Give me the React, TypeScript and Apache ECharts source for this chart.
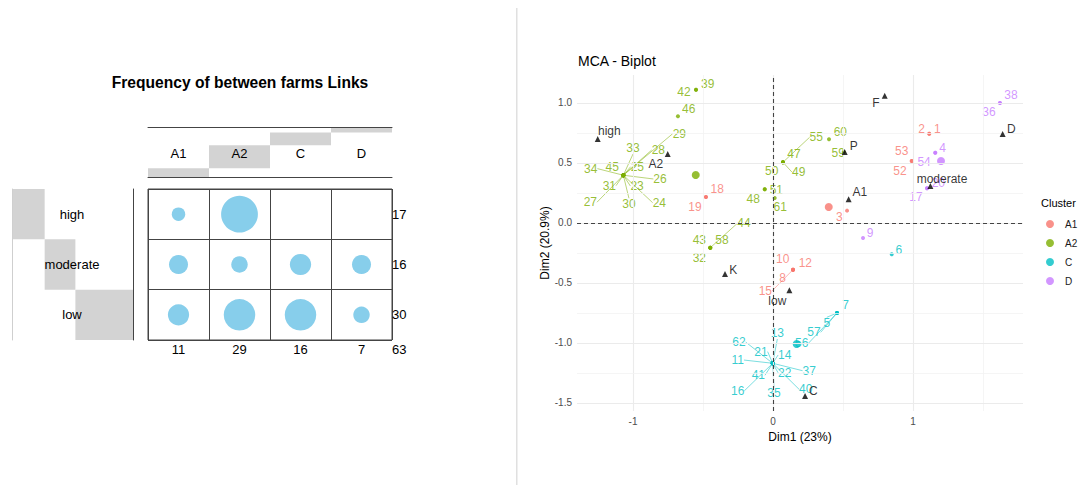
import React, { useEffect, useRef } from "react";
import * as echarts from "echarts";

// ---------------- Balloon plot data ----------------
const balloonRows = ["high", "moderate", "low"];
const balloonCols = ["A1", "A2", "C", "D"];
const countsHigh = [2, 15, 0, 0];
const countsModerate = [4, 3, 5, 4];
const countsLow = [5, 11, 11, 3];
const balloonCounts = [countsHigh, countsModerate, countsLow];

// ---------------- MCA biplot data ----------------
const clusterNames = ["A1", "A2", "C", "D"];
const clusterColors = ["#F8766D", "#7CAE00", "#00BFC4", "#C77CFF"];

const a1Ids = ["1", "2", "3", "8", "10", "12", "15", "18", "19", "52", "53"];
const a1Dim1 = [1.116, 1.116, 0.529, 0.143, 0.143, 0.143, 0.143, -0.479, -0.479, 0.991, 0.991];
const a1Dim2 = [0.744, 0.744, 0.103, -0.389, -0.389, -0.389, -0.389, 0.217, 0.217, 0.517, 0.517];
const a1LabelDim1 = [1.174, 1.062, 0.474, 0.069, 0.069, 0.231, -0.055, -0.398, -0.557, 0.907, 0.919];
const a1LabelDim2 = [0.781, 0.781, 0.048, -0.456, -0.303, -0.331, -0.567, 0.283, 0.136, 0.433, 0.6];

const a2Ids = ["23", "24", "25", "26", "27", "28", "29", "30", "31", "33", "34", "45", "39", "42", "46", "47", "49", "50", "55", "60", "59", "48", "51", "61", "32", "43", "44", "58"];
const a2Dim1 = [-1.069, -1.069, -1.069, -1.069, -1.069, -1.069, -1.069, -1.069, -1.069, -1.069, -1.069, -1.069, -0.55, -0.55, -0.679, 0.071, 0.071, 0.071, 0.071, 0.4, 0.505, -0.059, -0.059, 0.012, -0.448, -0.448, -0.448, -0.448];
const a2Dim2 = [0.398, 0.398, 0.398, 0.398, 0.398, 0.398, 0.398, 0.398, 0.398, 0.398, 0.398, 0.398, 1.111, 1.111, 0.889, 0.506, 0.506, 0.506, 0.506, 0.698, 0.592, 0.281, 0.281, 0.208, -0.206, -0.206, -0.206, -0.206];
const a2LabelDim1 = [-0.971, -0.812, -0.969, -0.807, -1.305, -0.819, -0.669, -1.029, -1.169, -1.0, -1.302, -1.148, -0.466, -0.636, -0.602, 0.15, 0.184, -0.009, 0.309, 0.481, 0.466, -0.141, 0.024, 0.052, -0.526, -0.526, -0.207, -0.364];
const a2LabelDim2 = [0.308, 0.169, 0.469, 0.367, 0.173, 0.608, 0.744, 0.156, 0.311, 0.625, 0.453, 0.469, 1.156, 1.094, 0.948, 0.578, 0.423, 0.436, 0.714, 0.758, 0.586, 0.203, 0.275, 0.131, -0.294, -0.142, -0.003, -0.142];

const cIds = ["5", "7", "56", "57", "6", "11", "13", "14", "16", "21", "22", "35", "37", "40", "41", "62"];
const cDim1 = [0.457, 0.457, 0.457, 0.457, 0.848, -0.002, -0.002, -0.002, -0.002, -0.002, -0.002, -0.002, -0.002, -0.002, -0.002, -0.002];
const cDim2 = [-0.75, -0.75, -0.75, -0.75, -0.261, -1.169, -1.169, -1.169, -1.169, -1.169, -1.169, -1.169, -1.169, -1.169, -1.169, -1.169];
const cLabelDim1 = [0.384, 0.519, 0.205, 0.293, 0.898, -0.252, 0.031, 0.084, -0.252, -0.086, 0.084, 0.007, 0.259, 0.234, -0.105, -0.243];
const cLabelDim2 = [-0.836, -0.686, -1.003, -0.911, -0.222, -1.142, -0.917, -1.1, -1.398, -1.072, -1.248, -1.419, -1.231, -1.386, -1.269, -0.992];

const dIds = ["36", "38", "4", "54", "17", "20", "9"];
const dDim1 = [1.621, 1.621, 1.159, 1.159, 1.1, 1.1, 0.643];
const dDim2 = [1.0, 1.0, 0.586, 0.586, 0.289, 0.289, -0.125];
const dLabelDim1 = [1.543, 1.7, 1.212, 1.079, 1.021, 1.181, 0.693];
const dLabelDim2 = [0.923, 1.067, 0.625, 0.506, 0.214, 0.331, -0.086];

const centroidDim1 = [0.398, -0.552, 0.169, 1.2];
const centroidDim2 = [0.133, 0.4, -1.008, 0.517];

const varNames = ["high", "A2", "K", "P", "A1", "F", "D", "moderate", "low", "C"];
const varDim1 = [-1.252, -0.752, -0.343, 0.512, 0.54, 0.798, 1.64, 1.124, 0.117, 0.229];
const varDim2 = [0.7, 0.575, -0.425, 0.592, 0.197, 1.061, 0.742, 0.308, -0.561, -1.442];
const varLabelDim1 = [-1.169, -0.836, -0.284, 0.576, 0.621, 0.736, 1.702, 1.207, 0.031, 0.288];
const varLabelDim2 = [0.764, 0.492, -0.389, 0.644, 0.261, 1.0, 0.783, 0.369, -0.65, -1.398];

const segmentLabels = ["23", "24", "25", "26", "27", "28", "29", "30", "31", "33", "34", "44", "49", "55", "15", "5", "56", "57", "11", "13", "14", "16", "21", "22", "35", "37", "40", "41", "62"];

const xMajor = [-1, 0, 1];
const xMinor = [-0.5, 0.5, 1.5];
const yMajor = [-1.5, -1, -0.5, 0, 0.5, 1];
const yMinor = [-1.25, -0.75, -0.25, 0.25, 0.75];
const xRange = [-1.4, 1.7857];
const yRange = [-1.5667, 1.2333];

const FONT = "'Liberation Sans', Arial, Helvetica, sans-serif";

export default function App() {
  const ref = useRef<HTMLDivElement>(null);

  useEffect(() => {
    if (!ref.current) return;
    const chart = echarts.init(ref.current, null, { renderer: "svg" });

    const colTotals = balloonCols.map((_, j) => balloonCounts.reduce((s, r) => s + r[j], 0));
    const rowTotals = balloonCounts.map((r) => r.reduce((s, v) => s + v, 0));
    const grandTotal = rowTotals.reduce((s, v) => s + v, 0);
    const colBase = colTotals.map((_, j) => colTotals.slice(0, j).reduce((s, v) => s + v, 0));
    const rowBase = rowTotals.map((_, i) => rowTotals.slice(0, i).reduce((s, v) => s + v, 0));

    const balloonData: any[] = [];
    balloonRows.forEach((r, i) =>
      balloonCols.forEach((c, j) => balloonData.push([c, r, balloonCounts[i][j]]))
    );

    const makeLayout = (lx: number[], ly: number[]) => (params: any) => {
      const i = params.dataIndex;
      if (i >= lx.length) return {};
      const p = chart.convertToPixel({ seriesIndex: params.seriesIndex }, [lx[i], ly[i]]);
      if (!p) return {};
      return { x: p[0], y: p[1], align: "center", verticalAlign: "middle" };
    };

    const clusterDefs = [
      { ids: a1Ids, x: a1Dim1, y: a1Dim2, lx: a1LabelDim1, ly: a1LabelDim2 },
      { ids: a2Ids, x: a2Dim1, y: a2Dim2, lx: a2LabelDim1, ly: a2LabelDim2 },
      { ids: cIds, x: cDim1, y: cDim2, lx: cLabelDim1, ly: cLabelDim2 },
      { ids: dIds, x: dDim1, y: dDim2, lx: dLabelDim1, ly: dLabelDim2 },
    ];

    const clusterSeries = clusterDefs.map((d, k) => ({
      type: "scatter",
      name: clusterNames[k],
      xAxisIndex: 4,
      yAxisIndex: 4,
      z: 4,
      symbol: "circle",
      symbolSize: 4,
      itemStyle: { color: clusterColors[k] },
      label: {
        show: true,
        formatter: "{b}",
        position: "inside",
        color: clusterColors[k],
        fontSize: 12,
        fontFamily: FONT,
      },
      labelLine: { show: false, lineStyle: { width: 0.8, opacity: 0.65 } },
      labelLayout: makeLayout(d.lx, d.ly),
      data: d.ids
        .map((id, i) => ({
          name: id,
          value: [d.x[i], d.y[i]],
          labelLine: { show: segmentLabels.includes(id) },
        }))
        .concat([
          {
            name: "",
            value: [centroidDim1[k], centroidDim2[k]],
            symbolSize: 8,
            label: { show: false },
            labelLine: { show: false },
          } as any,
        ]),
    }));

    const option: any = {
      animation: false,
      textStyle: { fontFamily: FONT },
      title: [
        {
          text: "Frequency of between farms Links",
          left: 240,
          top: 74,
          textAlign: "center",
          padding: 0,
          textStyle: { fontSize: 15.6, fontWeight: "bold", color: "#000", fontFamily: FONT },
        },
        {
          text: "MCA - Biplot",
          left: 578,
          top: 54,
          padding: 0,
          textStyle: { fontSize: 14, fontWeight: "normal", color: "#000", fontFamily: FONT },
        },
        {
          text: "Cluster",
          left: 1041,
          top: 197,
          padding: 0,
          textStyle: { fontSize: 11, fontWeight: "normal", color: "#000", fontFamily: FONT },
        },
      ],
      legend: {
        data: clusterNames,
        orient: "vertical",
        left: 1046,
        top: 219,
        itemWidth: 8,
        itemHeight: 8,
        itemGap: 9,
        icon: "circle",
        selectedMode: false,
        padding: 0,
        textStyle: { fontSize: 10, color: "#1a1a1a", padding: [0, 0, 0, 6], fontFamily: FONT },
      },
      grid: [
        { left: 148, top: 189, width: 244, height: 151, show: true, borderColor: "#444", borderWidth: 1 },
        { left: 148, top: 127, width: 244, height: 50 },
        { left: 12, top: 189, width: 121, height: 151 },
        { left: 577, top: 75, width: 446, height: 336 },
      ],
      xAxis: [
        {
          type: "category",
          gridIndex: 0,
          data: balloonCols,
          position: "bottom",
          axisLine: { show: false },
          axisTick: { show: false },
          splitLine: { show: true, interval: 0, lineStyle: { color: "#444", width: 1 } },
          axisLabel: {
            interval: 0,
            margin: 3,
            fontSize: 13,
            color: "#000",
            formatter: (_v: string, i: number) => String(colTotals[i]),
          },
        },
        {
          type: "category",
          gridIndex: 1,
          data: balloonCols,
          position: "bottom",
          z: 6,
          axisLine: { show: true, lineStyle: { color: "#444", width: 1 } },
          axisTick: { show: false },
          axisLabel: { interval: 0, margin: -30, fontSize: 13, color: "#000" },
        },
        {
          type: "category",
          gridIndex: 1,
          data: balloonCols,
          position: "top",
          z: 6,
          axisLine: { show: true, lineStyle: { color: "#444", width: 1 } },
          axisTick: { show: false },
          axisLabel: { show: false },
        },
        { type: "value", gridIndex: 2, min: 0, max: grandTotal, show: false },
        {
          type: "value",
          gridIndex: 3,
          min: xRange[0],
          max: xRange[1],
          splitLine: { show: false },
          axisLine: { show: false },
          axisTick: { show: true, customValues: xMajor, length: 4, lineStyle: { color: "#333" } },
          axisLabel: {
            customValues: xMajor,
            formatter: (v: number) => String(v),
            color: "#4d4d4d",
            fontSize: 10,
            margin: 5,
          },
          name: "Dim1 (23%)",
          nameLocation: "middle",
          nameGap: 19,
          nameTextStyle: { fontSize: 12, color: "#000" },
        },
      ],
      yAxis: [
        {
          type: "category",
          gridIndex: 0,
          data: balloonRows,
          inverse: true,
          position: "right",
          axisLine: { show: false },
          axisTick: { show: false },
          splitLine: { show: true, interval: 0, lineStyle: { color: "#444", width: 1 } },
          axisLabel: {
            interval: 0,
            margin: 0,
            fontSize: 13,
            color: "#000",
            formatter: (_v: string, i: number) => String(rowTotals[i]),
          },
        },
        { type: "value", gridIndex: 1, min: 0, max: grandTotal, show: false },
        {
          type: "category",
          gridIndex: 2,
          data: balloonRows,
          inverse: true,
          position: "left",
          z: 6,
          axisLine: { show: true, lineStyle: { color: "#cfcfcf", width: 1 } },
          axisTick: { show: false },
          axisLabel: { interval: 0, align: "center", margin: -60, fontSize: 13, color: "#000" },
        },
        {
          type: "category",
          gridIndex: 2,
          data: balloonRows,
          inverse: true,
          position: "right",
          axisLine: { show: true, lineStyle: { color: "#444", width: 1 } },
          axisTick: { show: false },
          axisLabel: { show: false },
        },
        {
          type: "value",
          gridIndex: 3,
          min: yRange[0],
          max: yRange[1],
          splitLine: { show: false },
          axisLine: { show: false },
          axisTick: { show: true, customValues: yMajor, length: 4, lineStyle: { color: "#333" } },
          axisLabel: {
            customValues: yMajor,
            formatter: (v: number) => v.toFixed(1),
            color: "#4d4d4d",
            fontSize: 10,
            margin: 5,
          },
          name: "Dim2 (20.9%)",
          nameLocation: "middle",
          nameRotate: 90,
          nameGap: 24,
          nameTextStyle: { fontSize: 12, color: "#000" },
        },
      ],
      graphic: [
        {
          type: "rect",
          silent: true,
          shape: { x: 516, y: 8, width: 1.5, height: 477 },
          style: { fill: "#e0e0e0" },
        },
        {
          type: "text",
          silent: true,
          x: 392,
          y: 349,
          style: {
            text: String(grandTotal),
            fontSize: 13,
            fill: "#000",
            fontFamily: FONT,
            verticalAlign: "middle",
            align: "left",
          },
        },
      ],
      series: [
        // balloon cells
        {
          type: "scatter",
          xAxisIndex: 0,
          yAxisIndex: 0,
          symbol: "circle",
          symbolSize: (val: any[]) => 9.5 * Math.sqrt(val[2]),
          itemStyle: { color: "#87CEEB", opacity: 1 },
          data: balloonData,
          silent: true,
        },
        // column marginal bars
        {
          type: "bar",
          xAxisIndex: 1,
          yAxisIndex: 1,
          stack: "col",
          barWidth: "100%",
          itemStyle: { color: "transparent" },
          data: colBase,
          silent: true,
        },
        {
          type: "bar",
          xAxisIndex: 1,
          yAxisIndex: 1,
          stack: "col",
          barWidth: "100%",
          itemStyle: { color: "#d3d3d3" },
          data: colTotals,
          silent: true,
        },
        // row marginal bars
        {
          type: "bar",
          xAxisIndex: 3,
          yAxisIndex: 2,
          stack: "row",
          barWidth: "100%",
          itemStyle: { color: "transparent" },
          data: rowBase,
          silent: true,
        },
        {
          type: "bar",
          xAxisIndex: 3,
          yAxisIndex: 2,
          stack: "row",
          barWidth: "100%",
          itemStyle: { color: "#d3d3d3" },
          data: rowTotals,
          silent: true,
        },
        // biplot grid lines
        {
          type: "scatter",
          xAxisIndex: 4,
          yAxisIndex: 4,
          z: 0,
          symbolSize: 0,
          data: [[0, 0]],
          silent: true,
          itemStyle: { opacity: 0 },
          markLine: {
            silent: true,
            symbol: "none",
            label: { show: false },
            data: [
              ...xMajor.map((v) => ({ xAxis: v, lineStyle: { color: "#ebebeb", width: 1.1, type: "solid" } })),
              ...xMinor.map((v) => ({ xAxis: v, lineStyle: { color: "#f2f2f2", width: 0.8, type: "solid" } })),
              ...yMajor.map((v) => ({ yAxis: v, lineStyle: { color: "#ebebeb", width: 1.1, type: "solid" } })),
              ...yMinor.map((v) => ({ yAxis: v, lineStyle: { color: "#f2f2f2", width: 0.8, type: "solid" } })),
            ],
          },
        },
        // zero reference lines
        {
          type: "scatter",
          xAxisIndex: 4,
          yAxisIndex: 4,
          z: 1,
          symbolSize: 0,
          data: [[0, 0]],
          silent: true,
          itemStyle: { opacity: 0 },
          markLine: {
            silent: true,
            symbol: "none",
            label: { show: false },
            lineStyle: { color: "#444", width: 1.1, type: [4, 3] },
            data: [{ xAxis: 0 }, { yAxis: 0 }],
          },
        },
        ...clusterSeries,
        // variable categories
        {
          type: "scatter",
          name: "variables",
          xAxisIndex: 4,
          yAxisIndex: 4,
          z: 6,
          symbol: "triangle",
          symbolSize: 6,
          itemStyle: { color: "#000" },
          label: {
            show: true,
            formatter: "{b}",
            position: "inside",
            color: "#000",
            fontSize: 12,
            fontFamily: FONT,
          },
          labelLayout: makeLayout(varLabelDim1, varLabelDim2),
          data: varNames.map((n, i) => ({ name: n, value: [varDim1[i], varDim2[i]] })),
        },
      ],
    };

    chart.setOption(option);
    return () => chart.dispose();
  }, []);

  return (
    <div
      ref={ref}
      style={{ position: "fixed", left: 0, top: 0, width: 1081, height: 486, background: "#fff" }}
    />
  );
}
